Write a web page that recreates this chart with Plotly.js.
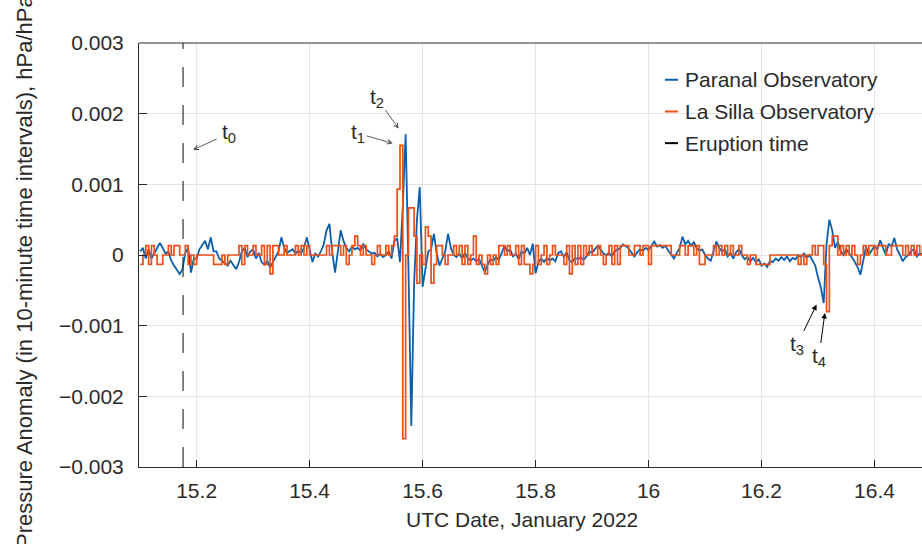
<!DOCTYPE html>
<html>
<head>
<meta charset="utf-8">
<script src="https://cdn.plot.ly/plotly-3.0.1.min.js"></script>
<style>html,body{margin:0;padding:0;background:#fff;}#chart{width:922px;height:544px;}</style>
</head>
<body>
<div id="chart"></div>
<script>
// Sampling of both records: UTC day of January 2022
const sampleStart = 15.100;
const sampleStep = 0.005;

// Paranal Observatory pressure anomaly (hPa/hPa)
const paranal = [
 0.5e-4,1.0e-4,-0.5e-4,0.8e-4,-0.5e-4,0.3e-4,1.0e-4,1.7e-4,1.0e-4,0.2e-4,
 0.5e-4,-0.8e-4,-1.5e-4,-2.2e-4,-2.7e-4,-2.0e-4,0.3e-4,1.0e-4,-2.5e-4,-0.5e-4,
 -0.5e-4,0.8e-4,1.5e-4,2.0e-4,0.8e-4,2.5e-4,0.5e-4,0.5e-4,-0.5e-4,-0.8e-4,
 -1.2e-4,-1.5e-4,-0.8e-4,-1.5e-4,-2.0e-4,-1.0e-4,0.5e-4,1.0e-4,-0.3e-4,0.5e-4,
 0.8e-4,-0.5e-4,0.3e-4,-1.0e-4,-1.4e-4,-0.8e-4,-1.8e-4,-1.0e-4,-0.2e-4,0.5e-4,
 2.5e-4,1.0e-4,0.3e-4,0.5e-4,0.8e-4,0.2e-4,0.6e-4,0.3e-4,1.0e-4,2.5e-4,
 0.5e-4,-1.0e-4,0.2e-4,-0.2e-4,0.5e-4,1.5e-4,3.5e-4,4.4e-4,0.5e-4,-2.5e-4,
 0.5e-4,3.5e-4,2.0e-4,1.0e-4,0.5e-4,1.2e-4,0.8e-4,1.0e-4,0.6e-4,1.6e-4,
 0.8e-4,0.5e-4,0.2e-4,0.3e-4,-0.2e-4,0.2e-4,-0.3e-4,0,0.5e-4,-0.5e-4,
 2.0e-4,2.4e-4,-1.0e-4,7.0e-4,17.1e-4,-2.0e-4,-24.2e-4,-4.0e-4,5.0e-4,9.6e-4,
 -4.5e-4,-2.0e-4,0.5e-4,0.8e-4,3.0e-4,0.2e-4,-1.5e-4,-0.5e-4,0.5e-4,3.0e-4,
 1.0e-4,0,-0.3e-4,0.2e-4,-0.5e-4,0.3e-4,-0.4e-4,-0.8e-4,-0.5e-4,-0.9e-4,
 -0.6e-4,-1.5e-4,-2.4e-4,-1.4e-4,-0.6e-4,-0.8e-4,-0.3e-4,-0.7e-4,0.2e-4,1.3e-4,
 0.5e-4,0.8e-4,-0.2e-4,0.2e-4,-0.6e-4,0.5e-4,0.2e-4,1.0e-4,0,1.6e-4,
 -2.6e-4,-1.0e-4,-0.5e-4,-1.0e-4,-0.4e-4,-0.8e-4,-0.5e-4,-0.9e-4,0.3e-4,0.5e-4,
 -0.3e-4,0.4e-4,-0.8e-4,-1.0e-4,-0.4e-4,-0.6e-4,-0.3e-4,-0.7e-4,-0.2e-4,0.5e-4,
 0.3e-4,0.8e-4,1.3e-4,0.8e-4,0.2e-4,0,0.3e-4,-0.2e-4,0.5e-4,0.8e-4,
 1.0e-4,1.5e-4,1.2e-4,0.9e-4,0.3e-4,-0.2e-4,0.4e-4,0.8e-4,0.6e-4,1.0e-4,
 0.7e-4,1.4e-4,1.9e-4,1.2e-4,1.4e-4,1.0e-4,1.3e-4,0.6e-4,0,-0.5e-4,
 0.3e-4,1.0e-4,2.6e-4,1.5e-4,2.0e-4,1.3e-4,1.8e-4,1.0e-4,0.6e-4,0.8e-4,
 0,-0.5e-4,-0.8e-4,0.4e-4,1.9e-4,1.0e-4,0.5e-4,0.8e-4,-0.2e-4,0.3e-4,
 -0.5e-4,0.4e-4,0.8e-4,0,-0.6e-4,-0.3e-4,-0.9e-4,-0.4e-4,-1.0e-4,-0.6e-4,
 -1.5e-4,-1.2e-4,-1.7e-4,-0.8e-4,-1.0e-4,-0.5e-4,-0.8e-4,-0.3e-4,-0.7e-4,-0.2e-4,
 -0.9e-4,-0.4e-4,-0.6e-4,0,-0.3e-4,0.2e-4,-0.4e-4,0,-0.8e-4,-1.5e-4,
 -3.2e-4,-4.6e-4,-6.8e-4,1.5e-4,5.0e-4,3.5e-4,1.0e-4,1.9e-4,0.5e-4,0,
 0.8e-4,0.3e-4,-0.3e-4,-1.0e-4,-1.7e-4,-2.8e-4,-0.5e-4,1.2e-4,0,0.7e-4,
 1.3e-4,0.8e-4,2.1e-4,1.0e-4,0,1.6e-4,1.2e-4,2.4e-4,0.8e-4,0,
 -0.9e-4,-0.3e-4,0,0.6e-4,0.8e-4,-0.2e-4,0.3e-4,0
];

// La Silla Observatory pressure anomaly (hPa/hPa), quantised record
const laSilla = [
 -1.33e-4,0,1.33e-4,-1.33e-4,1.33e-4,0,-1.33e-4,-1.33e-4,0,0,
 1.33e-4,0,1.33e-4,1.33e-4,0,0,1.33e-4,-1.33e-4,0,-1.33e-4,
 0,0,0,0,0,0,-1.33e-4,-1.33e-4,-1.33e-4,0,
 -1.33e-4,0,0,0,0,1.33e-4,-1.33e-4,1.33e-4,0,0,
 1.33e-4,0,0,1.33e-4,-1.33e-4,1.33e-4,-2.67e-4,1.33e-4,1.33e-4,0,
 0,1.33e-4,0,0,0,1.33e-4,0,1.33e-4,0,1.33e-4,
 0,0,0,0,0,0,1.33e-4,0,1.33e-4,1.33e-4,
 1.33e-4,0,1.33e-4,-1.33e-4,0,1.33e-4,2.67e-4,1.33e-4,0,1.33e-4,
 0,0,-1.33e-4,0,1.33e-4,0,0,1.33e-4,0,1.33e-4,
 2.67e-4,9.33e-4,15.5e-4,-26e-4,0,6.67e-4,6.67e-4,2.67e-4,-4e-4,0,
 -1.33e-4,4e-4,2.67e-4,-4e-4,-1.33e-4,1.33e-4,1.33e-4,0,-1.33e-4,0,
 0,1.33e-4,0,1.33e-4,-1.33e-4,1.33e-4,-1.33e-4,0,2.67e-4,-1.33e-4,
 0,-1.33e-4,-2.67e-4,0,-1.33e-4,0,-1.33e-4,1.33e-4,1.33e-4,0,
 1.33e-4,0,0,1.33e-4,-1.33e-4,1.33e-4,-1.33e-4,-1.33e-4,-2.67e-4,-1.33e-4,
 1.33e-4,-1.33e-4,0,1.33e-4,-1.33e-4,0,1.33e-4,0,0,0,
 -1.33e-4,1.33e-4,-2.67e-4,1.33e-4,-1.33e-4,1.33e-4,-1.33e-4,1.33e-4,0,1.33e-4,
 0,0,1.33e-4,0,-1.33e-4,0,1.33e-4,-1.33e-4,1.33e-4,-1.33e-4,
 1.33e-4,1.33e-4,1.33e-4,0,0,1.33e-4,1.33e-4,0,1.33e-4,1.33e-4,
 -1.33e-4,1.33e-4,1.33e-4,1.33e-4,1.33e-4,1.33e-4,1.33e-4,1.33e-4,0,0,
 0,1.33e-4,1.33e-4,0,1.33e-4,1.33e-4,0,1.33e-4,-1.33e-4,-1.33e-4,
 0,0,0,1.33e-4,0,1.33e-4,0,1.33e-4,0,1.33e-4,
 0,0,1.33e-4,0,0,-1.33e-4,0,0,-1.33e-4,-1.33e-4,
 -1.33e-4,-1.33e-4,-1.33e-4,0,0,0,0,0,0,0,
 0,0,0,-1.33e-4,0,-1.33e-4,0,0,1.33e-4,0,
 1.33e-4,1.33e-4,-1.33e-4,-8e-4,1.33e-4,2.67e-4,2.67e-4,0,1.33e-4,0,
 1.33e-4,0,1.33e-4,0,-1.33e-4,0,1.33e-4,0,1.33e-4,1.33e-4,
 0,1.33e-4,1.33e-4,1.33e-4,0,0,1.33e-4,1.33e-4,1.33e-4,1.33e-4,
 0,1.33e-4,0,1.33e-4,0,1.33e-4,0,1.33e-4
];

const eruptionTime = 15.176;
const seriesNames = ['Paranal Observatory', 'La Silla Observatory', 'Eruption time'];
const xTickVals = [15.2, 15.4, 15.6, 15.8, 16, 16.2, 16.4];
const xTickText = ['15.2', '15.4', '15.6', '15.8', '16', '16.2', '16.4'];
const yTickVals = [-0.003, -0.002, -0.001, 0, 0.001, 0.002, 0.003];
const yTickText = ['\u22120.003', '\u22120.002', '\u22120.001', '0', '0.001', '0.002', '0.003'];
const xTitle = 'UTC Date, January 2022';
const yTitle = 'Pressure Anomaly (in 10-minute time intervals), hPa/hPa';
const eventLabels = ['t<sub>0</sub>', 't<sub>1</sub>', 't<sub>2</sub>', 't<sub>3</sub>', 't<sub>4</sub>'];

const BLUE = '#0b5fae';
const ORANGE = '#e9501a';
const TXT = '#2a2a2a';
const FONT = '"Liberation Sans", Arial, sans-serif';

const times = paranal.map((_, i) => +(sampleStart + i * sampleStep).toFixed(4));

const traces = [
  {x: times, y: paranal, type: 'scatter', mode: 'lines', name: seriesNames[0],
   line: {color: BLUE, width: 1.8}, showlegend: false},
  {x: times, y: laSilla, type: 'scatter', mode: 'lines', name: seriesNames[1],
   line: {color: ORANGE, width: 1.7, shape: 'hv'}, showlegend: false},
  {x: [eruptionTime, eruptionTime], y: [-0.003, 0.003], type: 'scatter', mode: 'lines',
   name: seriesNames[2], line: {color: '#333333', width: 1.2, dash: '20px,18px'}, showlegend: false}
];

// pixel helpers for paper placement (plot area 139..922 x 43.3..466.7)
const L = 139, R = 922, T = 43.3, B = 466.7;
const px = v => (v - L) / (R - L);
const py = v => (B - v) / (B - T);

const legendRows = [80, 111.7, 143.3];
const legendColors = [BLUE, ORANGE, '#000000'];
const shapes = [
  {type: 'line', xref: 'paper', yref: 'paper', x0: 0, x1: 1, y0: 1, y1: 1, line: {color: TXT, width: 1}}
];
const annotations = [];
legendRows.forEach((r, k) => {
  shapes.push({type: 'line', xref: 'paper', yref: 'paper', x0: px(665), x1: px(678), y0: py(r), y1: py(r),
               line: {color: legendColors[k], width: 2}});
  annotations.push({xref: 'paper', yref: 'paper', x: px(683), y: py(r), xanchor: 'left', yanchor: 'middle',
                    text: seriesNames[k], showarrow: false, font: {family: FONT, size: 21, color: TXT}});
});

// axis titles placed to match the reference
annotations.push({xref: 'paper', yref: 'paper', x: px(522), y: py(519), xanchor: 'center', yanchor: 'middle',
                  text: xTitle, showarrow: false, font: {family: FONT, size: 21, color: TXT}});
annotations.push({xref: 'paper', yref: 'paper', x: px(24), y: py(272), xanchor: 'center', yanchor: 'middle',
                  textangle: -90, text: yTitle, showarrow: false, font: {family: FONT, size: 22, color: TXT}});

// event markers: head point (hx, hy), label centre (lx, ly)
const events = [
  {hx: 15.194, hy: 0.00149, lx: 15.257, ly: 0.00172, head: 5, col: '#333', w: 0.8, ss: 4},
  {hx: 15.5469, hy: 0.00158, lx: 15.486, ly: 0.00172, head: 5, col: '#333', w: 0.8, ss: 0},
  {hx: 15.5575, hy: 0.00179, lx: 15.519, ly: 0.00222, head: 5, col: '#333', w: 0.8, ss: 0},
  {hx: 16.2973, hy: -0.000702, lx: 16.2625, ly: -0.00128, head: 2, col: '#000', w: 1, ss: 0},
  {hx: 16.3121, hy: -0.00082, lx: 16.3014, ly: -0.00145, head: 2, col: '#000', w: 1, ss: 0}
];
events.forEach((a, k) => {
  annotations.push({x: a.hx, y: a.hy, ax: a.lx, ay: a.ly, xref: 'x', yref: 'y', axref: 'x', ayref: 'y',
                    text: eventLabels[k], showarrow: true, arrowhead: a.head, arrowsize: 1.1,
                    arrowwidth: a.w, arrowcolor: a.col, standoff: 0, startstandoff: a.ss,
                    font: {family: FONT, size: 21, color: TXT}});
});

const layout = {
  width: 922, height: 544,
  margin: {l: 139, r: 0, t: 43.3, b: 77.3, pad: 0},
  paper_bgcolor: '#ffffff', plot_bgcolor: '#ffffff',
  font: {family: FONT, size: 21, color: TXT},
  showlegend: false,
  xaxis: {
    range: [15.098, 16.484], tickmode: 'array', tickvals: xTickVals, ticktext: xTickText,
    ticks: 'inside', ticklen: 7, tickwidth: 1, tickcolor: TXT, ticklabelstandoff: 5,
    showline: true, linecolor: TXT, linewidth: 1, mirror: false,
    showgrid: true, gridcolor: '#e5e5e5', gridwidth: 1, zeroline: false, automargin: false,
    tickfont: {family: FONT, size: 21, color: TXT}
  },
  yaxis: {
    range: [-0.003, 0.003], tickmode: 'array', tickvals: yTickVals, ticktext: yTickText,
    ticks: 'inside', ticklen: 8, tickwidth: 1, tickcolor: TXT, ticklabelstandoff: 10,
    showline: true, linecolor: TXT, linewidth: 1, mirror: false,
    showgrid: true, gridcolor: '#e5e5e5', gridwidth: 1, zeroline: false, automargin: false,
    tickfont: {family: FONT, size: 21, color: TXT}
  },
  shapes: shapes,
  annotations: annotations
};

Plotly.newPlot('chart', traces, layout, {displayModeBar: false, staticPlot: true});
</script>
</body>
</html>
